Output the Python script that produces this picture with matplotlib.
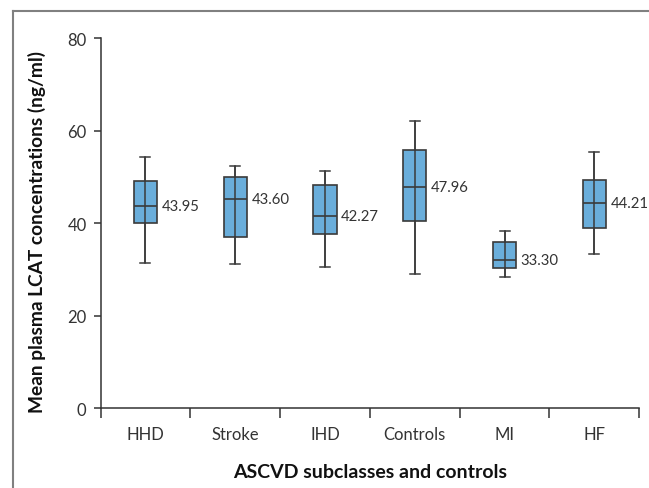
import matplotlib
matplotlib.use("Agg")
import matplotlib.pyplot as plt
from matplotlib.lines import Line2D

categories = ["HHD", "Stroke", "IHD", "Controls", "MI", "HF"]
whis_low = [31.3, 31.1, 30.6, 29.0, 28.4, 33.4]
q1 = [40.1, 37.1, 37.7, 40.4, 30.3, 38.9]
median = [43.8, 45.3, 41.6, 47.9, 32.1, 44.3]
q3 = [49.0, 49.9, 48.2, 55.7, 36.0, 49.4]
whis_high = [54.3, 52.3, 51.3, 62.0, 38.3, 55.4]
mean_labels = ["43.95", "43.60", "42.27", "47.96", "33.30", "44.21"]
yticks = [0, 20, 40, 60, 80]

plt.rcParams['font.family'] = ['Lato', 'DejaVu Sans']

W, H = 649, 489
fig = plt.figure(figsize=(W / 100, H / 100), dpi=100)
ax = fig.add_axes([100.5 / W, 1 - 409.3 / H, (639.3 - 100.5) / W, (409.3 - 39) / H])

positions = [i + 0.5 for i in range(len(categories))]
stats = []
for i in range(len(categories)):
    stats.append(dict(med=median[i], q1=q1[i], q3=q3[i],
                      whislo=whis_low[i], whishi=whis_high[i], fliers=[]))

edge = "#3a3a3a"
ax.bxp(stats, positions=positions, widths=0.26, patch_artist=True,
       showfliers=False, capwidths=0.11,
       boxprops=dict(facecolor="#6aaedb", edgecolor=edge, linewidth=1.2),
       medianprops=dict(color=edge, linewidth=1.2),
       whiskerprops=dict(color=edge, linewidth=1.1),
       capprops=dict(color=edge, linewidth=1.1), zorder=2)
ax.vlines(positions, whis_low, whis_high, color=edge, linewidth=1.1, zorder=4)

for p, m, lab in zip(positions, median, mean_labels):
    ax.text(p + 0.18, m, lab, ha="left", va="center", fontsize=10.7, color="#333333",
            clip_on=False)

ax.set_xlim(0, 6)
ax.set_ylim(0, 80)
ax.set_yticks(yticks)
ax.set_xticks(range(0, 7))
ax.set_xticklabels([])
ax.set_xticks(positions, minor=True)
ax.set_xticklabels(categories, minor=True, fontsize=12, color="#333333")
ax.tick_params(axis="x", which="major", length=7, direction="out", color="#333333", width=1.1)
ax.tick_params(axis="x", which="minor", length=0, pad=13)
ax.tick_params(axis="y", length=5, direction="out", color="#333333", width=1.1, labelsize=12,
               labelcolor="#333333", pad=5)
for s in ["top", "right"]:
    ax.spines[s].set_visible(False)
for s in ["left", "bottom"]:
    ax.spines[s].set_color("#333333")
    ax.spines[s].set_linewidth(1.1)

fig.text(370.5 / W, 1 - 473 / H, "ASCVD subclasses and controls", ha="center", va="center",
         fontsize=14, fontweight="bold", color="#111111")
fig.text(37 / W, 1 - 232 / H, "Mean plasma LCAT concentrations (ng/ml)", ha="center", va="center",
         rotation=90, fontsize=13.8, fontweight="bold", color="#111111")

fx, fy = 12.5 / W, 1 - 12 / H
fig.add_artist(Line2D([fx, fx], [0, fy], transform=fig.transFigure, color="#808080", linewidth=1.5))
fig.add_artist(Line2D([fx, 1], [fy, fy], transform=fig.transFigure, color="#808080", linewidth=1.5))

fig.savefig("out.png", dpi=100)
